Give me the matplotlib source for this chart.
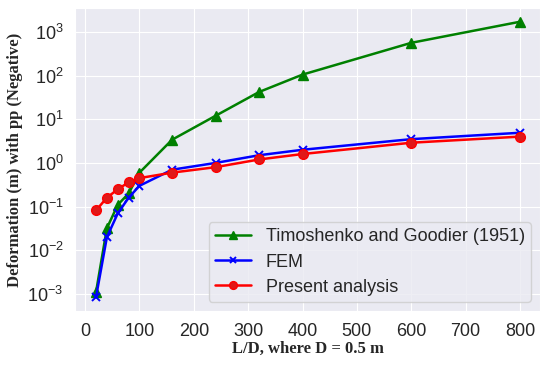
import numpy as np
import matplotlib
matplotlib.use("Agg")
import matplotlib.pyplot as plt
import seaborn as sns

# L/D values
ld = [20, 40, 60, 80, 100, 160, 240, 320, 400, 600, 800]
timoshenko = [0.0011, 0.032, 0.11, 0.2, 0.6, 3.4, 12, 42, 105, 560, 1700]
fem = [0.00085, 0.02, 0.07, 0.16, 0.3, 0.7, 1.0, 1.5, 2.0, 3.5, 4.9]
present = [0.082, 0.16, 0.25, 0.36, 0.45, 0.6, 0.8, 1.2, 1.6, 2.9, 4.0]

sns.set_style("darkgrid")
plt.rcParams['font.family'] = ['Liberation Sans', 'DejaVu Sans']

fig, ax = plt.subplots(figsize=(5.5, 3.65), dpi=100)
ax.plot(ld, timoshenko, color='green', marker='^', markersize=7, lw=1.8,
        label='Timoshenko and Goodier (1951)')
ax.plot(ld, fem, color='blue', marker='x', markersize=6, mew=1.4, lw=1.8, label='FEM')
ax.plot(ld, present, color='red', marker='o', markersize=7, lw=1.8,
        mfc='#e01818', label='Present analysis')

ax.set_yscale('log')
ax.set_yticks([1e-3, 1e-2, 1e-1, 1, 10, 100, 1000])
ax.minorticks_off()
ax.set_ylim(4.1e-4, 3.5e3)
ax.set_xlim(-18, 837)
ax.set_xticks(np.arange(0, 801, 100))
ax.tick_params(labelsize=13, pad=5)
ax.set_xlabel('L/D, where D = 0.5 m', family='Liberation Serif', fontweight='bold',
              fontsize=12, labelpad=1)
ax.set_ylabel('Deformation (m) with pp (Negative)', family='Liberation Serif',
              fontweight='bold', fontsize=12, labelpad=3)
ax.legend(loc='lower right', fontsize=13, handlelength=2, borderpad=0.35,
          labelspacing=0.45, framealpha=0.8, markerscale=0.8)

plt.subplots_adjust(left=0.137, right=0.982, top=0.978, bottom=0.148)
fig.savefig('out.png', dpi=100)
